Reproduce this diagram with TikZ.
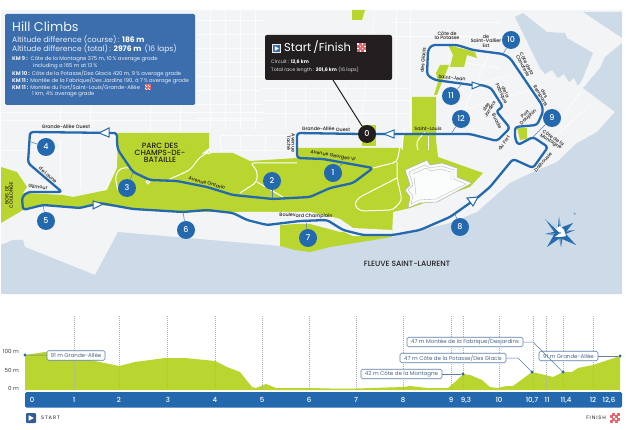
\documentclass[tikz,border=0pt]{standalone}
\usepackage{fontspec}
\setmainfont{Poppins}
\newfontfamily\medfont{Poppins Medium}
\definecolor{land}{HTML}{F3F4F5}
\definecolor{street}{HTML}{FCFCFD}
\definecolor{water}{HTML}{CDDBE8}
\definecolor{parkgreen}{HTML}{B9D530}
\definecolor{route}{HTML}{2468AE}
\definecolor{panel}{HTML}{3C6EAD}
\definecolor{ink}{HTML}{231F20}
\definecolor{pillblue}{HTML}{5B7FA8}
\definecolor{chk}{HTML}{E4686C}
\newcommand{\fsz}[1]{\fontsize{#1}{#1}\selectfont}
\newcommand{\chkicon}[3]{%
  \fill[chk] (#1,#2) rectangle ++(#3,#3);
  \foreach \i in {0,1,2,3}{\foreach \j in {0,1,2,3}{%
    \pgfmathparse{int(mod(\i+\j,2))}%
    \ifnum\pgfmathresult=0
      \fill[white] ({#1+\i*#3/4+0.12*#3/4},{#2+\j*#3/4+0.12*#3/4}) rectangle ++({0.76*#3/4},{0.76*#3/4});
    \fi}}}
\tikzset{
  lab/.style={font=\fsz{4.8}\medfont,text=ink,align=center,inner sep=0pt},
  labb/.style={font=\fsz{7.6}\medfont,text=ink,align=center,inner sep=0pt},
  run/.style={draw=route,line width=2.3pt,rounded corners=3pt,line join=round},
  tip/.style={fill=white,draw=route,line width=1pt,line join=miter},
  pin/.style={draw=pillblue,line width=0.5pt},
  num/.style={circle,fill=route,text=white,font=\fsz{8}\medfont,minimum size=18pt,inner sep=0pt},
  wroad/.style={draw=white,line width=1pt,rounded corners=4pt},
  gridl/.style={draw=street,line width=0.8pt},
  hill/.style={font=\fsz{7.6}\color{white!88!panel},anchor=west,inner sep=0pt},
  km/.style={font=\fsz{5.3}\color{white!90!panel},anchor=west,inner sep=0pt},
  tick/.style={draw=black!32,line width=0.7pt,dash pattern=on 1pt off 1pt},
  axl/.style={font=\fsz{5.6}\color{ink!85},inner sep=0pt},
  dist/.style={font=\fsz{7}\medfont\color{white},inner sep=0pt},
  pill/.style={draw=pillblue,line width=0.6pt,fill=white,rounded corners=1.5pt,inner sep=0pt,minimum height=9.5pt,font=\fsz{5.5}\color{pillblue!80!black}},
  lead/.style={draw=pillblue,line width=0.5pt},
  dot/.style={circle,fill=route,inner sep=0pt,minimum size=3.4pt}
}
\begin{document}
\begin{tikzpicture}[x=1pt,y=-1pt]
\useasboundingbox (0,0) rectangle (626,430);
\fill[white] (0,0) rectangle (626,430);
% land
\fill[land] (1,10) rectangle (622,294);
% streets
\foreach \y in {20,34,48,62,76,90,104,118}{\draw[gridl] (196,\y) -- (262,\y);}
\foreach \x in {210,225,240,255}{\draw[gridl] (\x,10) -- (\x,130);}
\foreach \y in {112,120}{\draw[gridl] (1,\y) -- (262,\y);}
\foreach \x in {60,90,150,180}{\draw[gridl] (\x,106) -- (\x,132);}
\foreach \y in {88,100,113}{\draw[gridl] (262,\y) -- (410,\y);}
\foreach \x in {285,305,325,345}{\draw[gridl] (\x,85) -- (\x,130);}
\foreach \x in {396,410}{\draw[gridl] (\x,10) -- (\x,130);}
\foreach \y in {22,36}{\draw[gridl] (392,\y) -- (500,\y);}
\draw[gridl] (375,10) -- (360,130);
\draw[gridl] (500,30) -- (455,130);
\draw[gridl] (438,95) -- (510,75);
\draw[gridl] (462,110) -- (530,90);
\draw[gridl] (445,60) -- (500,68);
\draw[gridl] (1,150) -- (60,150);
\draw[gridl] (60,140) -- (60,185);
\draw[gridl] (80,135) -- (80,190);
\draw[gridl] (220,135) rectangle (290,150);
\draw[gridl] (240,135) -- (240,150);
\draw[gridl] (265,135) -- (265,150);
\draw[gridl] (540,150) -- (590,105);
\draw[gridl] (560,120) -- (582,90);
\draw[gridl] (510,165) -- (480,190);
% water
\fill[water] (1,245) -- (13,240) -- (23,240) -- (25,247) -- (95,275) -- (118,232) -- (280,246) -- (300,250) -- (392,237) -- (450,223) -- (477,212) -- (510,183) -- (533,172) -- (557,162) -- (577,143) -- (597,132) -- (615,112) -- (583,88) -- (600,68) -- (605,57) -- (622,43) -- (622,294) -- (1,294) -- cycle;
\fill[water] (583,12) -- (622,12) -- (622,38) -- cycle;
\fill[water] (515,17) -- (523,13) -- (547,32) -- (565,33) -- (567,38) -- (593,53) -- (582,80) -- (578,86) -- (574,78) -- (569,82) -- (564,74) -- (558,78) -- (552,70) -- (545,74) -- (540,68) -- cycle;
\draw[white!70!water,line width=1.6pt] (603,57) -- (584,86);
% park
\fill[parkgreen] (1,167) -- (17,172) -- (27,187) -- (23,193) -- (63,195) -- (73,197) -- (107,190) -- (117,168) -- (118,133) -- (209,133) -- (209,148) -- (201,154) -- (213,153) -- (233,153) -- (250,161) -- (297,158) -- (297,148) -- (403,148) -- (403,135) -- (412,135) -- (412,97) -- (436,97) -- (436,140) -- (438,157) -- (483,173) -- (470,187) -- (410,208) -- (393,212) -- (392,237) -- (330,247) -- (310,252) -- (295,250) -- (280,246) -- (280,223) -- (310,224) -- (340,232) -- (353,231) -- (340,219) -- (310,212) -- (240,212) -- (183,212) -- (133,209) -- (100,205) -- (80,208) -- (43,205) -- (23,210) -- (1,223) -- cycle;
\fill[parkgreen] (352,10) -- (365,10) -- (362,20) -- (352,20) -- cycle;
\fill[parkgreen] (362,125) rectangle (376,146);
\fill[parkgreen] (448,45) -- (475,52) -- (477,58) -- (467,55) -- (464,67) -- (450,67) -- (453,55) -- cycle;
\fill[parkgreen] (436,73) -- (440,65) -- (449,65) -- (445,75) -- (442,82) -- (437,95) -- (434,95) -- (438,82) -- cycle;
\fill[parkgreen] (517,128) -- (527,128) -- (527,139) -- (520,140) -- cycle;
% park roads
\draw[wroad] (170,179) -- (190,170) -- (200,157) -- (209,152);
\draw[wroad] (240,193) -- (257,182) -- (257,170) -- (250,163) -- (297,163);
\draw[wroad] (257,182) -- (283,197);
\draw[wroad] (118,190) -- (115,177) -- (120,168) -- (130,168);
\draw[wroad] (373,168) -- (397,162) -- (400,147);
\draw[wroad] (397,162) -- (397,178) -- (402,200) -- (393,210) -- (360,211) -- (354,205) -- (358,198) -- (397,178);
\draw[wroad] (404,128) -- (402,150);
\draw[wroad] (418,150) -- (416,142) -- (425,132);
\draw[wroad] (428,150) -- (428,136);
\draw[white,line width=1pt,fill=parkgreen] (148,182) circle (1.8pt);
\draw[white,line width=1pt,fill=parkgreen] (209,152) circle (1.8pt);
% road Champlain
\fill[land] (240,212) -- (310,212) -- (340,219) -- (353,228) -- (392,230) -- (392,236) -- (353,236) -- (335,228) -- (310,223) -- (267,226) -- (248,221) -- cycle;
% fort
\fill[white!70!land,draw=black!32,line width=0.5pt] (405,170) -- (423,162) -- (427,160) -- (430,165) -- (442,163) -- (457,168) -- (457,177) -- (472,183) -- (437,202) -- (420,203) -- (408,208) -- (410,197) -- (405,190) -- (410,185) -- cycle;
\draw[black!28,line width=0.4pt] (409,172) -- (425,165) -- (430,168) -- (441,166) -- (454,170) -- (454,179) -- (466,184) -- (436,199) -- (419,200) -- (411,204) -- (413,196) -- (408,190) -- (413,185) -- cycle;
\draw[black!28,line width=0.4pt] (413,174) -- (426,168) -- (431,171) -- (440,169) -- (451,172) -- (451,180);
\draw[black!28,line width=0.4pt] (414,177) -- (416,195);
% route
\path[run] (373,134) -- (453,134) -- (470,134) -- (497,141) -- (510,128) -- (496,111) -- (503,107) -- (491,88) -- (482,85) -- (472,85) -- (435,80) -- (427,75) -- (428,50) -- (432,45) -- (457,45) -- (473,50) -- (503,54) -- (510,58) -- (542,105) -- (543,112) -- (537,125) -- (515,127) -- (515,138) -- (518,145) -- (533,137) -- (548,147) -- (533,168) -- (513,159) -- (490,187) -- (477,198) -- (450,217) -- (420,230) -- (393,235) -- (363,235) -- (343,230) -- (327,220) -- (300,221) -- (267,225) -- (247,220) -- (233,213) -- (207,210) -- (183,212) -- (133,209) -- (100,203) -- (80,208) -- (43,205) -- (23,210) -- (22,197) -- (28,192) -- (62,192) -- (28,163) -- (30,132) -- (117,133) -- (117,143) -- (118,150) -- (133,172) -- (150,180) -- (177,181) -- (207,187) -- (233,195) -- (273,199) -- (310,197) -- (330,188) -- (353,183) -- (373,168) -- (323,159) -- (297,158) -- (297,133) -- (361,134);
\filldraw[tip] (384,134) -- (394,130) -- (394,138) -- cycle;
\filldraw[tip] (99,133) -- (109,128) -- (109,137) -- cycle;
\filldraw[tip] (93,201) -- (93,209) -- (103,204) -- cycle;
\filldraw[tip] (472,82) -- (472,89) -- (481,85) -- cycle;
\filldraw[tip] (467,198) -- (473,206) -- (478,197) -- cycle;
% compass
\fill[route] (560,233) -- (559,217) -- (557.5,231) -- cycle;
\fill[route!70] (560,233) -- (559,217) -- (562,231) -- cycle;
\fill[route] (560,233) -- (561,247) -- (563,235) -- cycle;
\fill[route!70] (560,233) -- (561,247) -- (558,235) -- cycle;
\fill[route!70] (560,233) -- (575,230) -- (562,231) -- cycle;
\fill[route] (560,233) -- (575,230) -- (563,235) -- cycle;
\fill[route] (560,233) -- (545,234) -- (557,231) -- cycle;
\fill[route!70] (560,233) -- (545,234) -- (558,236) -- cycle;
\fill[route] (560,233) -- (545,219) -- (555,233) -- cycle;
\fill[white!70!route] (560,233) -- (545,219) -- (560,228) -- cycle;
\fill[route] (560,233) -- (576,245) -- (560,238) -- cycle;
\fill[route] (560,233) -- (576,245) -- (565,233) -- cycle;
\fill[route] (560,233) -- (547,247) -- (555,233) -- cycle;
\fill[route] (560,233) -- (547,247) -- (560,238) -- cycle;
\fill[route] (560,233) -- (573,223) -- (560,228) -- cycle;
\fill[route] (560,233) -- (573,223) -- (565,233) -- cycle;
\fill[white] (560,233) -- (556,229) -- (560,226) -- (564,230) -- (566,236) -- (561,237) -- (555,237) -- cycle;
\fill[route] (560,233) circle (0.8pt);
\node[inner sep=0pt,font=\fsz{4}\color{route}] (northmark) at (575,214) {$\ast$};
% street labels
\node[lab] (gaw) at (66,127) {Grande-Allée Ouest};
\node[lab] (gae) at (326,129) [rotate=-1] {Grande-Allée Ouest};
\node[lab] (tache) at (291,143) [rotate=-90] {Avenue\\[-0.5pt]Taché};
\node[lab] (georges) at (333,156) [rotate=-10] {Avenue Georges VI};
\node[lab] (ontario) at (207,183) [rotate=-15] {Avenue Ontario};
\node[lab] (gilmour) at (38,187) [rotate=-5] {Gilmour};
\node[lab] (laune) at (48,175) [rotate=-42] {de Laune};
\node[lab] (coulonge) at (9,195) [rotate=90] {BOIS DE\\[-0.5pt]COULONGE};
\node[lab] (champlain) at (306,216) [rotate=-1] {Boulevard Champlain};
\node[lab] (stlouis) at (428,129) {Saint-Louis};
\node[lab] (stjean) at (452,78) [rotate=-5] {Saint-Jean};
\node[lab] (glacis) at (423,60) [rotate=85] {des Glacis};
\node[lab] (potasse) at (447,36) {Côte de\\[-0.5pt]la Potasse};
\node[lab] (vallier) at (486,41) {de\\[-0.5pt]Saint-Vallier\\[-0.5pt]Est};
\node[lab] (fabrique) at (503,93) [rotate=-65] {de la\\[-0.5pt]Fabrique};
\node[lab] (jardins) at (488,108) [rotate=60] {des\\[-0.5pt]Jardins};
\node[lab] (buade) at (497,121) [rotate=-62] {Buade};
\node[lab] (dufort) at (504,143) [rotate=55] {du Fort};
\node[lab] (canoterie) at (525,65) [rotate=-62] {Côte de la\\[-0.5pt]Canoterie};
\node[lab] (remparts) at (542,95) [rotate=-60] {des\\[-0.5pt]Remparts};
\node[lab] (dauphin) at (527,116) [rotate=42] {Port\\[-0.5pt]Dauphin};
\node[lab] (montagne) at (552,140) [rotate=-33] {Côte de la\\[-0.5pt]Montagne};
\node[lab] (dalhousie) at (543,162) [rotate=48] {Dalhousie};
\node[labb] (parc) at (160,153) {PARC DES\\[-0.5pt]CHAMPS-DE-\\[-0.5pt]BATAILLE};
\node[labb] (fleuve) at (407,264) {FLEUVE SAINT-LAURENT};
% numbered markers
\node[num] (n1) at (333,173) {1};
\node[num] (n2) at (272,181) {2};
\node[num] (n3) at (127,188) {3};
\node[num] (n4) at (46,147) {4};
\node[num] (n5) at (46,221) {5};
\node[num] (n6) at (186,230) {6};
\node[num] (n7) at (308,238) {7};
\node[num] (n8) at (460,227) {8};
\node[num] (n9) at (552,118) {9};
\node[num] (n10) at (511,40) {10};
\node[num] (n11) at (451,96) {11};
\node[num] (n12) at (461,119) {12};
\node[num,fill=ink] (n0) at (367,134) {0};
\coordinate (p1) at (344,162);
\coordinate (p2) at (272,198);
\coordinate (p3) at (133,172);
\coordinate (p4) at (31,142);
\coordinate (p5) at (43,205);
\coordinate (p6) at (183,212);
\coordinate (p7) at (306,221);
\coordinate (p8) at (455,214);
\coordinate (p9) at (533,137);
\coordinate (p10) at (503,54);
\coordinate (p11) at (462,84);
\coordinate (p12) at (451,134);
\foreach \k in {1,2,3,4,5,6,7,8,9,10,11,12}{\draw[pin] (n\k) -- (p\k);}
% hill climbs panel
\fill[panel,rounded corners=1.5pt] (5,14) rectangle (195,105);
\node[font=\fsz{12.8}\color{white!92!panel},anchor=west,inner sep=0pt] (hct) at (12,26.5) {Hill Climbs};
\node[hill] (h1) at (12,40) {Altitude difference (course)\,: {\bfseries\color{white}186 m}};
\node[hill] (h2) at (12,48.5) {Altitude difference (total)\,: {\bfseries\color{white}2976 m}\, (16 laps)};
\node[km] (k1) at (12,59.5) {{\bfseries KM 9 :}\;\;Côte de la Montagne 375 m, 10\,\% average grade};
\node[km] (k2) at (33,66.5) {including a 165 m at 13\,\%};
\node[km] (k3) at (12,73.5) {{\bfseries KM 10 :} Côte de la Potasse/Des Glacis 420 m, 9\,\% average grade};
\node[km] (k4) at (12,80.5) {{\bfseries KM 11 :} Montée de la Fabrique/Des Jardins 190, à 7\,\% average grade};
\node[km] (k5) at (12,87.5) {{\bfseries KM 11 :} Montée du Fort/Saint-Louis/Grande-Allée};
\chkicon{144.5}{84.5}{6}
\node[km] (k6) at (32,94.5) {1 km, 4\% average grade};
% start finish panel
\coordinate (boxfoot) at (333,80);
\draw[ink,line width=1pt] (boxfoot) -- (n0);
\fill[ink,rounded corners=2pt] (265,35) rectangle (392,80);
\fill[white!90!panel] (272,44) rectangle (281,53);
\fill[panel] (273,45) rectangle (280,52);
\fill[white] (274.8,46.2) -- (278.8,48.5) -- (274.8,50.8) -- cycle;
\node[font=\fsz{11.5}\color{white},anchor=west,inner sep=0pt] (sf) at (284,47.5) {Start\,/Finish};
\chkicon{357}{43}{9}
\node[font=\fsz{4.8}\color{white!85!ink},anchor=west,inner sep=0pt] (cir) at (271,62) {Circuit : {\bfseries\color{white}12,6 km}};
\node[font=\fsz{4.8}\color{white!85!ink},anchor=west,inner sep=0pt] (tot) at (271,70) {Total race length : {\bfseries\color{white}201,6 km} (16 laps)};
% profile
\fill[parkgreen] (25,355) -- (45,352) -- (75,357) -- (95,361) -- (119,366) -- (135,362) -- (165,358) -- (185,358) -- (215,361) -- (227,367) -- (240,372) -- (252,387) -- (256,388) -- (266,384) -- (276,388) -- (309,388) -- (330,388.5) -- (357,388.5) -- (403,387) -- (410,386) -- (427,388) -- (448,388) -- (455,382) -- (463,374) -- (470,375) -- (482,380) -- (490,387) -- (497,388) -- (507,386) -- (513,386) -- (532,372) -- (545,375) -- (553,377) -- (563,372) -- (572,372) -- (578,368) -- (593,365) -- (620,356) -- (620,390) -- (25,390) -- cycle;
\fill[route,rounded corners=1.5pt] (25,392) rectangle (622,407.5);
\foreach \x in {74,119,167,215,262,309,356,403,451,463,499,533,546,563,593}{\draw[tick] (\x,316) -- (\x,390);}
\node[axl,anchor=east] (a100) at (19,351) {100 m};
\node[axl,anchor=east] (a50) at (19,370) {50 m};
\node[axl,anchor=east] (a0) at (19,388) {0 m};
\node[dist] (d0) at (32,400) {0};
\node[dist] (d1) at (74,400) {1};
\node[dist] (d2) at (119,400) {2};
\node[dist] (d3) at (168,400) {3};
\node[dist] (d4) at (215,400) {4};
\node[dist] (d5) at (262,400) {5};
\node[dist] (d6) at (309,400) {6};
\node[dist] (d7) at (356,400) {7};
\node[dist] (d8) at (403,400) {8};
\node[dist] (d9) at (451,400) {9};
\node[dist] (d93) at (466,400) {9,3};
\node[dist] (d10) at (499,400) {10};
\node[dist] (d107) at (532,400) {10,7};
\node[dist] (d11) at (547,400) {11};
\node[dist] (d114) at (566,400) {11,4};
\node[dist] (d12) at (593,400) {12};
\node[dist] (d126) at (609,400) {12,6};
% profile labels
\node[dot] (s0) at (25,355) {};
\node[dot] (s1) at (463,374) {};
\node[dot] (s2) at (532,372) {};
\node[dot] (s3) at (563,372) {};
\node[dot] (s4) at (620,356) {};
\coordinate (b2) at (518,358);
\coordinate (b3) at (533,342);
\node[pill,minimum width=58pt] (l0) at (76,355.5) {91 m Grande-Allée};
\node[pill,minimum width=116pt] (l3) at (465,342) {47 m Montée de la Fabrique/Desjardins};
\node[pill,minimum width=106pt] (l2) at (453,358) {47 m Côte de la Potasse/Des Glacis};
\node[pill,minimum width=81pt] (l1) at (401.5,374) {42 m Côte de la Montagne};
\node[pill,minimum width=59pt] (l4) at (568.5,356) {91 m Grande-Allée};
\draw[lead] (s0) -- (l0);
\draw[lead] (l1) -- (s1);
\draw[lead] (l2) -- (b2) -- (s2);
\draw[lead] (l3) -- (b3) -- (s3);
\draw[lead] (l4) -- (s4);
% start finish legend
\fill[panel!85!black,rounded corners=1pt] (26,413) rectangle (36,423);
\fill[white] (28.6,415.2) -- (33.8,418) -- (28.6,420.8) -- cycle;
\node[font=\fsz{5}\medfont\color{ink!85},anchor=west,inner sep=0pt] (stl) at (41,418) {S\,T\,A\,R\,T};
\node[font=\fsz{5}\medfont\color{ink!85},anchor=east,inner sep=0pt] (fil) at (606,418) {F\,I\,N\,I\,S\,H};
\chkicon{610}{413}{10}
\end{tikzpicture}
\end{document}
